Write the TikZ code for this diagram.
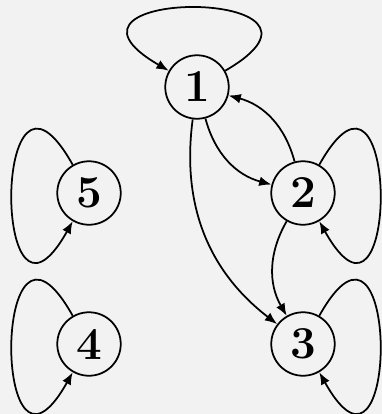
\documentclass[tikz,border=0pt]{standalone}
\usetikzlibrary{arrows.meta,positioning}
\definecolor{paper}{HTML}{F2F2F2}
\tikzset{vertex/.style={
            draw,
            circle,
            line width=1pt,
            inner sep=0pt,
            minimum size=1.27cm,
            font=\fontsize{26}{30}\selectfont\bfseries
        },
        link/.style={
            ->,
            >={Latex[length=7pt,width=5.5pt]},
            line width=1pt
        }
    }
\begin{document}
\begin{tikzpicture}[x=0.02cm,y=0.02cm]
        \path[use as bounding box,fill=paper] (0,0) rectangle (382,-414);
        \node[vertex] at (197,-87) (v1) {1};
        \node[vertex] at (303,-193) (v2) {2};
        \node[vertex] at (303,-344) (v3) {3};
        \node[vertex] at (89,-193) (v5) {5};
        \node[vertex] at (89,-344) (v4) {4};
        % edges between vertices
        \draw[link] (v1) to[bend right=30] (v2);
        \draw[link] (v2) to[bend right=30] (v1);
        \draw[link] (v1) to[bend right=30] (v3);
        \draw[link] (v2) to[bend right=30] (v3);
        % self loops
        \draw[link] (v1.30) .. controls +(145,84) and +(-145,84) .. (v1.150);
        \draw[link] (v2.60) .. controls +(81,145) and +(81,-145) .. (v2.-60);
        \draw[link] (v3.60) .. controls +(81,145) and +(81,-145) .. (v3.-60);
        \draw[link] (v5.120) .. controls +(-81,145) and +(-81,-145) .. (v5.-120);
        \draw[link] (v4.120) .. controls +(-81,145) and +(-81,-145) .. (v4.-120);
    \end{tikzpicture}
\end{document}
